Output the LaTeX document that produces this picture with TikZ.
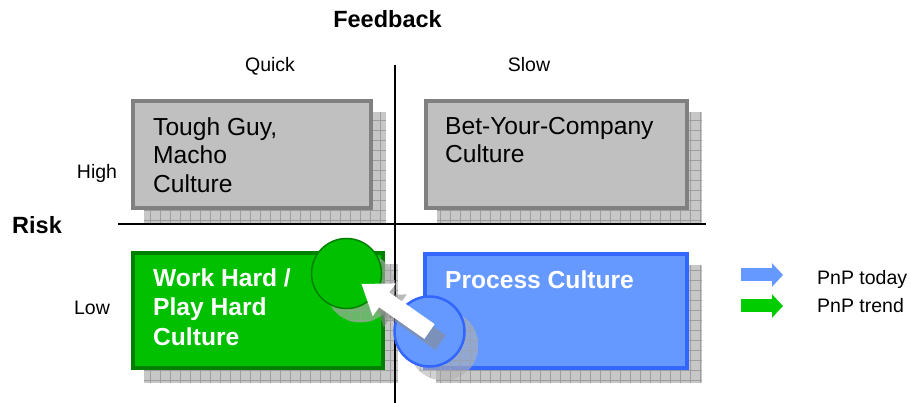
\documentclass[tikz,border=0pt]{standalone}
\usepackage{fontspec}
\setmainfont{Liberation Sans}
\usetikzlibrary{arrows.meta}
\definecolor{boxgray}{RGB}{192,192,192}
\definecolor{edgegray}{RGB}{128,128,128}
\definecolor{workgreen}{RGB}{0,192,0}
\definecolor{darkgreen}{RGB}{0,128,0}
\definecolor{trendgreen}{RGB}{0,204,0}
\definecolor{procblue}{RGB}{102,153,255}
\definecolor{edgeblue}{RGB}{51,102,255}
\begin{document}
\begin{tikzpicture}[x=1pt,y=-1pt,
 box/.style={draw,line width=4pt,inner sep=0,anchor=north west},
 boxtxt/.style={anchor=north west,inner sep=0,align=left,font=\fontsize{24.6}{28.5}\selectfont},
 boldtxt/.style={boxtxt,text=white,font=\fontsize{24.6}{29.5}\selectfont\bfseries},
 lbl/.style={anchor=base,inner sep=0,font=\fontsize{19.5}{23}\selectfont},
 head/.style={anchor=base,inner sep=0,font=\fontsize{23.5}{28}\selectfont\bfseries},
 shadowbg/.style={fill=black!22},
 shadowgrid/.style={draw=black!38,line width=.6pt,step=10pt},
 bigarrow/.style={line width=18pt,-{Triangle[width=38pt,length=28pt]},shorten >=18pt},
 legend/.style={line width=13pt,-{Triangle[width=23pt,length=11pt]}}]
\useasboundingbox(0,0)rectangle(911,403);
\foreach \a/\b/\c/\d in {144/112/386/223,437/112/702/223,144/264/398/383,436/265/702/383}{\begin{scope}\clip(\a,\b)rectangle(\c,\d);\fill[shadowbg](\a,\b)rectangle(\c,\d);\draw[shadowgrid](\a,\b)grid(\c,\d);\end{scope}}
\coordinate(west)at(118,224);\coordinate(east)at(706,224);\coordinate(top)at(395,65);\coordinate(bottom)at(395,403);
\draw[line width=1.5pt](west)--(east);\draw[line width=1.5pt](top)--(bottom);
\node[box,fill=boxgray,draw=edgegray,minimum width=238pt,minimum height=107pt](tough)at(131,99){};
\node[box,fill=boxgray,draw=edgegray,minimum width=261pt,minimum height=107pt](bet)at(424,99){};
\node[box,fill=workgreen,draw=darkgreen,minimum width=250pt,minimum height=115pt](work)at(131,251){};
\node[box,fill=procblue,draw=edgeblue,minimum width=262pt,minimum height=114pt](proc)at(423,252){};
\node[boxtxt](toughtxt)at(153,117){Tough Guy,\\Macho\\Culture};
\node[boxtxt](bettxt)at(445,117){Bet-Your-Company\\Culture};
\node[boldtxt](worktxt)at(153,268){Work Hard /\\Play Hard\\Culture};
\node[boldtxt](proctxt)at(445,270){Process Culture};
\coordinate(gcpos)at(346.5,273.5);\coordinate(bcpos)at(429.5,331.5);
\foreach \p in {gcpos,bcpos}{\begin{scope}\clip([shift={(14,14)}]\p)circle(35);\fill[black!30,opacity=.6]([shift={(14,14)}]\p)circle(35);\draw[shadowgrid,opacity=.6](0,0)grid(911,403);\end{scope}}
\node[circle,minimum size=70pt,inner sep=0,fill=workgreen,draw=darkgreen,line width=1.5pt](gc)at(gcpos){};
\node[circle,minimum size=70pt,inner sep=0,fill=procblue,draw=edgeblue,line width=2.5pt](bc)at(bcpos){};
\draw[bigarrow,black!45,opacity=.6]([shift={(11,11)}]bc.center)--([shift={(11,11)}]gc.center);
\draw[bigarrow,white](bc.center)--(gc.center);
\node[head](feedback)at(387.5,28){Feedback};
\node[lbl](quick)at(270,72){Quick};\node[lbl](slow)at(529,72){Slow};
\node[lbl](high)at(97,179){High};\node[lbl](low)at(92,315){Low};
\node[head,anchor=base west](risk)at(12,234){Risk};
\coordinate(t1)at(741,275);\coordinate(t2)at(783,275);\coordinate(g1)at(741,306);\coordinate(g2)at(783,306);
\draw[legend,procblue](t1)--(t2);\draw[legend,trendgreen](g1)--(g2);
\node[lbl,anchor=base west](today)at(817,285){PnP today};
\node[lbl,anchor=base west](trend)at(817,313){PnP trend};
\end{tikzpicture}
\end{document}
